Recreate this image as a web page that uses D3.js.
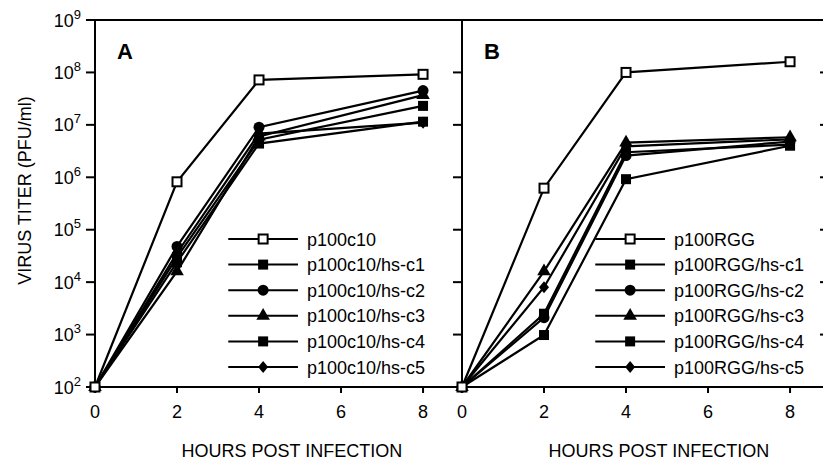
<!DOCTYPE html>
<html><head><meta charset="utf-8">
<script src="https://cdn.jsdelivr.net/npm/d3@7"></script>
<style>body{margin:0;background:#fff}svg{display:block}text{font-family:"Liberation Sans",Arial,sans-serif;fill:#000}</style>
</head><body><svg id="c" width="823" height="460"></svg>
<script>
const hours = [0, 2, 4, 8];
const xTicks = [0, 2, 4, 6, 8];
const yExponents = [2, 3, 4, 5, 6, 7, 8, 9];
const markers = ["open-square", "square", "circle", "triangle", "square", "diamond"];

const namesA = ["p100c10", "p100c10/hs-c1", "p100c10/hs-c2", "p100c10/hs-c3", "p100c10/hs-c4", "p100c10/hs-c5"];
const a_c10 = [1e2, 8.2e5, 7.2e7, 9.2e7];
const a_c1  = [1e2, 3.0e4, 5.2e6, 2.3e7];
const a_c2  = [1e2, 4.8e4, 9.0e6, 4.5e7];
const a_c3  = [1e2, 1.6e4, 6.0e6, 3.7e7];
const a_c4  = [1e2, 2.4e4, 4.4e6, 1.15e7];
const a_c5  = [1e2, 3.6e4, 6.8e6, 1.1e7];

const namesB = ["p100RGG", "p100RGG/hs-c1", "p100RGG/hs-c2", "p100RGG/hs-c3", "p100RGG/hs-c4", "p100RGG/hs-c5"];
const b_rgg = [1e2, 6.2e5, 1.0e8, 1.6e8];
const b_c1  = [1e2, 2.5e3, 3.0e6, 4.2e6];
const b_c2  = [1e2, 2.1e3, 2.6e6, 4.8e6];
const b_c3  = [1e2, 1.6e4, 4.6e6, 5.8e6];
const b_c4  = [1e2, 9.8e2, 9.2e5, 4.0e6];
const b_c5  = [1e2, 8.0e3, 3.9e6, 5.3e6];

const svg = d3.select("#c");
const plotTop = 20, plotBottom = 387;
const y = d3.scaleLog().domain([1e2, 1e9]).range([plotBottom, plotTop]);

function marker(g, type, cx, cy) {
  if (type === "open-square") {
    g.append("rect").attr("x", cx - 4.5).attr("y", cy - 4.5).attr("width", 9).attr("height", 9)
      .attr("fill", "#fff").attr("stroke", "#000").attr("stroke-width", 2);
  } else if (type === "square") {
    g.append("rect").attr("x", cx - 5).attr("y", cy - 5).attr("width", 10).attr("height", 10).attr("fill", "#000");
  } else if (type === "circle") {
    g.append("circle").attr("cx", cx).attr("cy", cy).attr("r", 5.5).attr("fill", "#000");
  } else if (type === "triangle") {
    g.append("path").attr("d", d3.symbol(d3.symbolTriangle, 80)()).attr("transform", `translate(${cx},${cy})`).attr("fill", "#000");
  } else if (type === "diamond") {
    g.append("path").attr("d", `M${cx},${cy-6}L${cx+5},${cy}L${cx},${cy+6}L${cx-5},${cy}Z`).attr("fill", "#000");
  }
}

function panel(x0, x1, series, names, letter, showYLabels) {
  const x = d3.scaleLinear().domain([0, 8.95]).range([x0, x1]);
  const g = svg.append("g");
  g.append("line").attr("x1", x0).attr("x2", x1).attr("y1", plotBottom).attr("y2", plotBottom).attr("stroke", "#000").attr("stroke-width", 2.2);
  g.append("line").attr("x1", x0).attr("x2", x0).attr("y1", plotTop).attr("y2", plotBottom + 1).attr("stroke", "#000").attr("stroke-width", 2);
  g.append("line").attr("x1", x0).attr("x2", x1).attr("y1", plotTop).attr("y2", plotTop).attr("stroke", "#000").attr("stroke-width", 2);
  yExponents.forEach(e => {
    g.append("line").attr("x1", x0 - 9).attr("x2", x0).attr("y1", y(Math.pow(10, e))).attr("y2", y(Math.pow(10, e)))
      .attr("stroke", "#000").attr("stroke-width", 2);
    if (showYLabels) {
      const t = g.append("text").attr("x", x0 - 14).attr("y", y(Math.pow(10, e)) + 6.5).attr("text-anchor", "end").attr("font-size", 18);
      t.append("tspan").text("10");
      t.append("tspan").attr("dy", -8).attr("font-size", 13).text(String(e));
    }
  });
  xTicks.forEach(v => {
    g.append("line").attr("x1", x(v)).attr("x2", x(v)).attr("y1", plotBottom).attr("y2", plotBottom + 6).attr("stroke", "#000").attr("stroke-width", 2);
    g.append("text").attr("x", x(v)).attr("y", plotBottom + 31).attr("text-anchor", "middle").attr("font-size", 18).text(v);
  });
  g.append("text").attr("x", x(4.8)).attr("y", 457).attr("text-anchor", "middle").attr("font-size", 18).text("HOURS POST INFECTION");
  g.append("text").attr("x", x0 + 22).attr("y", 59).attr("font-size", 22).attr("font-weight", "bold").text(letter);

  const line = d3.line().x((d, i) => x(hours[i])).y(d => y(d));
  const order = [1, 2, 3, 4, 5, 0];
  order.forEach(k => {
    g.append("path").attr("d", line(series[k])).attr("fill", "none").attr("stroke", "#000").attr("stroke-width", 2.2);
    series[k].forEach((v, i) => marker(g, markers[k], x(hours[i]), y(v)));
  });
  const lx0 = x(3.25), lx1 = x(4.95), lm = (lx0 + lx1) / 2;
  names.forEach((n, k) => {
    const ly = 239 + k * 25.6;
    g.append("line").attr("x1", lx0).attr("x2", lx1).attr("y1", ly).attr("y2", ly).attr("stroke", "#000").attr("stroke-width", 2);
    marker(g, markers[k], lm, ly);
    g.append("text").attr("x", lx1 + 9).attr("y", ly + 6.5).attr("font-size", 18).text(n);
  });
  return x;
}

panel(95, 462, [a_c10, a_c1, a_c2, a_c3, a_c4, a_c5], namesA, "A", true);
panel(462, 829, [b_rgg, b_c1, b_c2, b_c3, b_c4, b_c5], namesB, "B", false);
yExponents.slice(1, 7).forEach(e => {
  svg.append("line").attr("x1", 820).attr("x2", 829).attr("y1", y(Math.pow(10, e))).attr("y2", y(Math.pow(10, e))).attr("stroke", "#000").attr("stroke-width", 2);
});
svg.append("text").attr("transform", `translate(31,${(plotTop + plotBottom) / 2 - 13}) rotate(-90)`).attr("text-anchor", "middle").attr("font-size", 18).text("VIRUS TITER (PFU/ml)");
</script></body></html>
